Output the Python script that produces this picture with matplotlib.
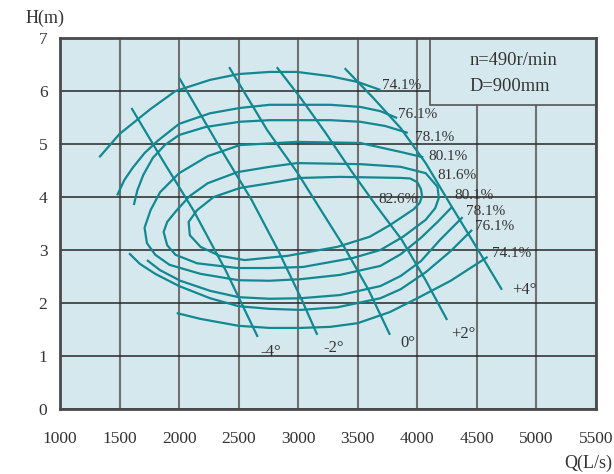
import matplotlib
matplotlib.use("Agg")
import matplotlib.pyplot as plt
from matplotlib.patches import Rectangle

plt.rcParams['font.family'] = ['Liberation Serif', 'DejaVu Serif']

# ---------------- data (Q in L/s, H in m) ----------------
x_ticks = [1000, 1500, 2000, 2500, 3000, 3500, 4000, 4500, 5000, 5500]
y_ticks = [0, 1, 2, 3, 4, 5, 6, 7]

# efficiency curves
eff741_up_q = [1330, 1500, 1760, 1970, 2260, 2500, 2760, 2990, 3270, 3500, 3690]
eff741_up_h = [4.75, 5.19, 5.66, 6.00, 6.21, 6.32, 6.36, 6.36, 6.28, 6.17, 6.02]
eff761_up_q = [1480, 1540, 1610, 1710, 1820, 2000, 2260, 2510, 2760, 2990, 3270, 3520, 3690, 3830]
eff761_up_h = [4.03, 4.32, 4.55, 4.83, 5.06, 5.38, 5.58, 5.68, 5.74, 5.74, 5.74, 5.70, 5.62, 5.49]
eff781_up_q = [1620, 1650, 1700, 1780, 1880, 2000, 2220, 2510, 2760, 2990, 3270, 3520, 3730, 3920]
eff781_up_h = [3.85, 4.13, 4.42, 4.74, 4.98, 5.17, 5.32, 5.42, 5.45, 5.45, 5.45, 5.42, 5.34, 5.21]
eff801_q = [4050, 3860, 3520, 2990, 2510, 2240, 2000, 1840, 1760, 1710, 1730, 1800, 1920, 2180,
            2500, 2760, 3020, 3350, 3690, 3860, 4030, 4170, 4290]
eff801_h = [4.75, 4.85, 5.02, 5.04, 4.98, 4.77, 4.45, 4.09, 3.75, 3.42, 3.13, 2.91, 2.72, 2.55,
            2.43, 2.42, 2.45, 2.53, 2.70, 2.92, 3.23, 3.53, 3.81]
eff816_q = [4170, 4070, 3860, 3520, 2990, 2760, 2490, 2240, 2090, 1980, 1900, 1870, 1900, 1970,
            2150, 2490, 2760, 3040, 3460, 3690, 3880, 4070, 4150, 4180, 4170]
eff816_h = [4.19, 4.45, 4.57, 4.62, 4.64, 4.57, 4.47, 4.26, 4.02, 3.75, 3.53, 3.34, 3.09, 2.91,
            2.75, 2.66, 2.66, 2.68, 2.85, 3.00, 3.25, 3.57, 3.79, 3.98, 4.19]
eff826_q = [4040, 4030, 4000, 3940, 3860, 3350, 3020, 2760, 2510, 2290, 2150, 2080, 2090, 2180,
            2340, 2550, 2910, 3330, 3600, 3770, 3970, 4020, 4040]
eff826_h = [4.02, 4.15, 4.28, 4.35, 4.36, 4.38, 4.36, 4.26, 4.17, 4.00, 3.75, 3.53, 3.28, 3.06,
            2.89, 2.81, 2.89, 3.06, 3.25, 3.47, 3.77, 3.89, 4.02]
eff781_lo_q = [1730, 1840, 2010, 2260, 2500, 2760, 3020, 3350, 3690, 3860, 4030, 4190, 4380]
eff781_lo_h = [2.81, 2.62, 2.42, 2.23, 2.11, 2.08, 2.09, 2.15, 2.32, 2.51, 2.79, 3.19, 3.62]
eff761_lo_q = [1580, 1670, 1800, 2000, 2260, 2500, 2760, 3020, 3330, 3690, 3860, 4070, 4280, 4460]
eff761_lo_h = [2.94, 2.74, 2.55, 2.32, 2.09, 1.94, 1.89, 1.87, 1.92, 2.09, 2.26, 2.58, 2.98, 3.38]
eff741_lo_q = [1980, 2180, 2500, 2760, 3020, 3270, 3500, 3770, 4000, 4280, 4590]
eff741_lo_h = [1.81, 1.70, 1.57, 1.53, 1.53, 1.55, 1.62, 1.83, 2.09, 2.42, 2.87]

# blade-angle lines
ang_m4_q = [1600, 1860, 2120, 2390, 2660]
ang_m4_h = [5.68, 4.70, 3.75, 2.62, 1.36]
ang_m2_q = [2000, 2330, 2610, 2830, 3030, 3160]
ang_m2_h = [6.25, 4.98, 3.94, 3.00, 2.06, 1.40]
ang_0_q = [2420, 2740, 2990, 3180, 3390, 3590, 3770]
ang_0_h = [6.45, 5.26, 4.47, 3.79, 3.04, 2.25, 1.40]
ang_p2_q = [2820, 3020, 3230, 3440, 3650, 3870, 4070, 4250]
ang_p2_h = [6.45, 5.87, 5.21, 4.51, 3.85, 3.19, 2.43, 1.68]
ang_p4_q = [3390, 3630, 3860, 4070, 4280, 4500, 4710]
ang_p4_h = [6.43, 5.87, 5.30, 4.64, 3.85, 3.04, 2.25]

# labels
eff_labels = ['74.1%', '76.1%', '78.1%', '80.1%', '81.6%', '82.6%', '80.1%', '78.1%', '76.1%', '74.1%']
eff_label_q = [3700, 3840, 3980, 4090, 4170, 3670, 4310, 4410, 4480, 4630]
eff_label_h = [6.11, 5.55, 5.13, 4.77, 4.40, 3.96, 4.02, 3.72, 3.44, 2.94]
ang_labels = ['-4°', '-2°', '0°', '+2°', '+4°']
ang_label_q = [2680, 3210, 3860, 4280, 4800]
ang_label_h = [1.08, 1.15, 1.25, 1.42, 2.25]

info_lines = ['n=490r/min', 'D=900mm']

# ---------------- figure ----------------
BG = '#d5e8ee'
TEAL = '#128891'
TXT = '#333333'

fig = plt.figure(figsize=(6.14, 4.74), dpi=100)
ax = fig.add_axes([0.0977, 0.1371, 0.873, 0.7827])
ax.set_facecolor(BG)
ax.set_xlim(1000, 5500)
ax.set_ylim(0, 7)
ax.set_xticks(x_ticks)
ax.set_yticks(y_ticks)
ax.set_axisbelow(True)
ax.xaxis.grid(True, color='#707070', lw=1.5)
ax.yaxis.grid(True, color='#262626', lw=1.1)
ax.tick_params(length=0, labelsize=12.5, colors=TXT)
ax.tick_params(axis='x', pad=16)
ax.tick_params(axis='y', pad=9)
for sp in ax.spines.values():
    sp.set_color('#4a4a4a')
    sp.set_linewidth(2.0)

# info box (covers grid)
box = Rectangle((4110, 5.736), 5500 - 4110, 7 - 5.736, facecolor=BG,
                edgecolor='#555555', lw=1.2, zorder=1)
ax.add_patch(box)

curves = [
    (eff741_up_q, eff741_up_h), (eff761_up_q, eff761_up_h), (eff781_up_q, eff781_up_h),
    (eff801_q, eff801_h), (eff816_q, eff816_h), (eff826_q, eff826_h),
    (eff781_lo_q, eff781_lo_h), (eff761_lo_q, eff761_lo_h), (eff741_lo_q, eff741_lo_h),
    (ang_m4_q, ang_m4_h), (ang_m2_q, ang_m2_h), (ang_0_q, ang_0_h),
    (ang_p2_q, ang_p2_h), (ang_p4_q, ang_p4_h),
]
for q, h in curves:
    ax.plot(q, h, color=TEAL, lw=1.6, solid_joinstyle='round', solid_capstyle='butt', zorder=2)

for t, q, h in zip(eff_labels, eff_label_q, eff_label_h):
    ax.text(q, h, t, ha='left', va='center', fontsize=11, color=TXT, zorder=3)
for t, q, h in zip(ang_labels, ang_label_q, ang_label_h):
    ax.text(q, h, t, ha='left', va='center', fontsize=12, color=TXT, zorder=3)

ax.text(4437, 6.58, info_lines[0], ha='left', va='center', fontsize=13.3, color=TXT, zorder=3)
ax.text(4437, 6.08, info_lines[1], ha='left', va='center', fontsize=13.3, color=TXT, zorder=3)

fig.text(0.041, 0.962, 'H(m)', ha='left', va='center', fontsize=13, color=TXT)
fig.text(0.997, 0.023, 'Q(L/s)', ha='right', va='center', fontsize=13, color=TXT)

fig.savefig('out.png', dpi=100, facecolor='white')
